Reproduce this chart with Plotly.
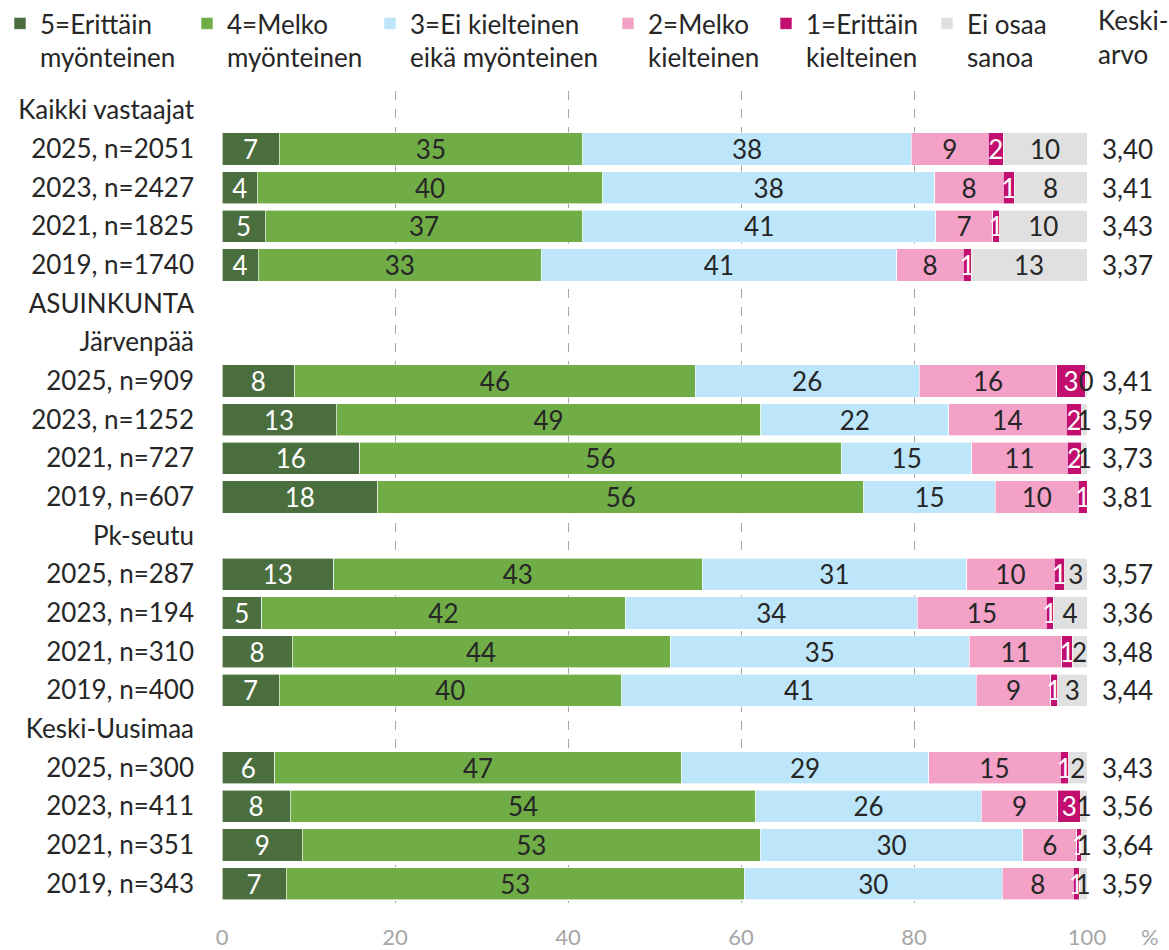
import plotly.graph_objects as go

rivit = ["Kaikki vastaajat", "2025, n=2051", "2023, n=2427", "2021, n=1825", "2019, n=1740",
         "ASUINKUNTA", "Järvenpää", "2025, n=909", "2023, n=1252", "2021, n=727", "2019, n=607",
         "Pk-seutu", "2025, n=287", "2023, n=194", "2021, n=310", "2019, n=400",
         "Keski-Uusimaa", "2025, n=300", "2023, n=411", "2021, n=351", "2019, n=343"]

# osuudet (%), otsikkoriveillä None
s5 = [None, 6.6, 4.1, 5.0, 4.2, None, None, 8.4, 13.2, 15.9, 18.0, None, 12.9, 4.6, 8.1, 6.6, None, 6.1, 7.9, 9.3, 7.4]
s4 = [None, 35.1, 39.9, 36.7, 32.7, None, None, 46.3, 49.1, 55.7, 56.2, None, 42.6, 42.0, 43.7, 39.6, None, 47.0, 53.8, 52.9, 53.0]
s3 = [None, 38.0, 38.4, 40.8, 41.1, None, None, 25.9, 21.7, 15.1, 15.2, None, 30.6, 33.8, 34.6, 41.0, None, 28.6, 26.1, 30.4, 29.8]
s2 = [None, 8.9, 7.9, 6.6, 7.7, None, None, 15.9, 13.6, 11.0, 9.6, None, 10.1, 14.9, 10.7, 8.6, None, 15.2, 8.8, 6.2, 8.2]
s1 = [None, 1.7, 1.3, 0.8, 0.9, None, None, 3.3, 1.8, 1.7, 1.0, None, 1.2, 0.8, 1.2, 0.8, None, 1.0, 2.7, 0.6, 0.7]
eos = [None, 9.7, 8.4, 10.1, 13.4, None, None, 0.2, 0.6, 0.6, 0.0, None, 2.6, 3.9, 1.7, 3.4, None, 2.1, 0.7, 0.6, 0.9]

keskiarvo = [None, 3.40, 3.41, 3.43, 3.37, None, None, 3.41, 3.59, 3.73, 3.81, None, 3.57, 3.36, 3.48, 3.44,
             None, 3.43, 3.56, 3.64, 3.59]

sarjat = ["5=Erittäin<br>myönteinen", "4=Melko<br>myönteinen", "3=Ei kielteinen<br>eikä myönteinen",
          "2=Melko<br>kielteinen", "1=Erittäin<br>kielteinen", "Ei osaa<br>sanoa"]
arvot = [s5, s4, s3, s2, s1, eos]
colors = ['#4a6e3e', '#70ad47', '#bde6fb', '#f4a1c8', '#c20e6e', '#e0e0e0']
textcolors = ['#ffffff', '#262626', '#262626', '#262626', '#ffffff', '#262626']
# selitteiden tekstin alkukohta (px) kuvan vasemmasta reunasta
legend_x_px = [40, 227, 410, 648, 806, 967]

FONT = 'Lato'
FS = 26
W, H = 1169, 950

fig = go.Figure()
legends = {}
for i, (nimi, vals, c, tc) in enumerate(zip(sarjat, arvot, colors, textcolors)):
    teksti = ['' if v is None or v == 0 else f'{v:.0f}' for v in vals]
    lname = 'legend' if i == 0 else f'legend{i + 1}'
    fig.add_trace(go.Bar(y=rivit, x=vals, name=nimi, orientation='h', legend=lname,
                         showlegend=True,
                         marker=dict(color=c, line=dict(color='white', width=0.6)),
                         text=teksti, textposition='inside', insidetextanchor='middle',
                         textangle=0, constraintext='none', cliponaxis=False,
                         textfont=dict(color=tc, size=FS, family=FONT),
                         hoverinfo='skip'))
    legends[lname] = dict(xref='container', yref='container',
                          x=(legend_x_px[i] - 40) / W, y=1 + 32 / H,
                          xanchor='left', yanchor='top', valign='top',
                          bgcolor='rgba(0,0,0,0)', visible=True,
                          font=dict(size=FS, family=FONT, color='#262626'), itemclick=False)

# keskiarvot oikealla
for r, m in zip(rivit, keskiarvo):
    if m is None:
        continue
    fig.add_annotation(x=1.015, y=r, xref='paper', yref='y', text=f'{m:.2f}'.replace('.', ','),
                       showarrow=False, xanchor='left', font=dict(size=FS, color='#262626', family=FONT))

fig.add_annotation(x=1.010, y=1.110, xref='paper', yref='paper', text='Keski-<br>arvo', showarrow=False,
                   xanchor='left', yanchor='top', align='left', font=dict(size=FS, color='#262626', family=FONT))
fig.add_annotation(x=1.073, y=-0.041, xref='paper', yref='paper', text='%', showarrow=False,
                   xanchor='center', yanchor='middle', font=dict(size=22, color='#a6a6a6', family=FONT))

fig.update_layout(
    barmode='stack', bargap=0.17,
    width=W, height=H, showlegend=True,
    margin=dict(l=222, r=82, t=91, b=47, autoexpand=False),
    paper_bgcolor='white', plot_bgcolor='white',
    font=dict(family=FONT, size=FS, color='#262626'),
    uniformtext=dict(mode='show', minsize=FS),
    xaxis=dict(range=[0, 100.0001], tickvals=[0, 20, 40, 60, 80, 100], showgrid=True,
               gridcolor='#a6a6a6', griddash='dash', gridwidth=1, zeroline=False,
               showline=False, ticklabelstandoff=19,
               tickfont=dict(size=22, color='#a6a6a6', family=FONT)),
    yaxis=dict(categoryorder='array', categoryarray=rivit, autorange='reversed',
               showgrid=False, zeroline=False, ticks='', ticklabelstandoff=27,
               tickfont=dict(size=FS, color='#262626', family=FONT)),
    **legends,
)

# sivun oletusreunus pois, jotta kuva osuu ikkunaan
fig.write_html("out.html", config={'displayModeBar': False},
               post_script="document.body.style.margin='0px';")
